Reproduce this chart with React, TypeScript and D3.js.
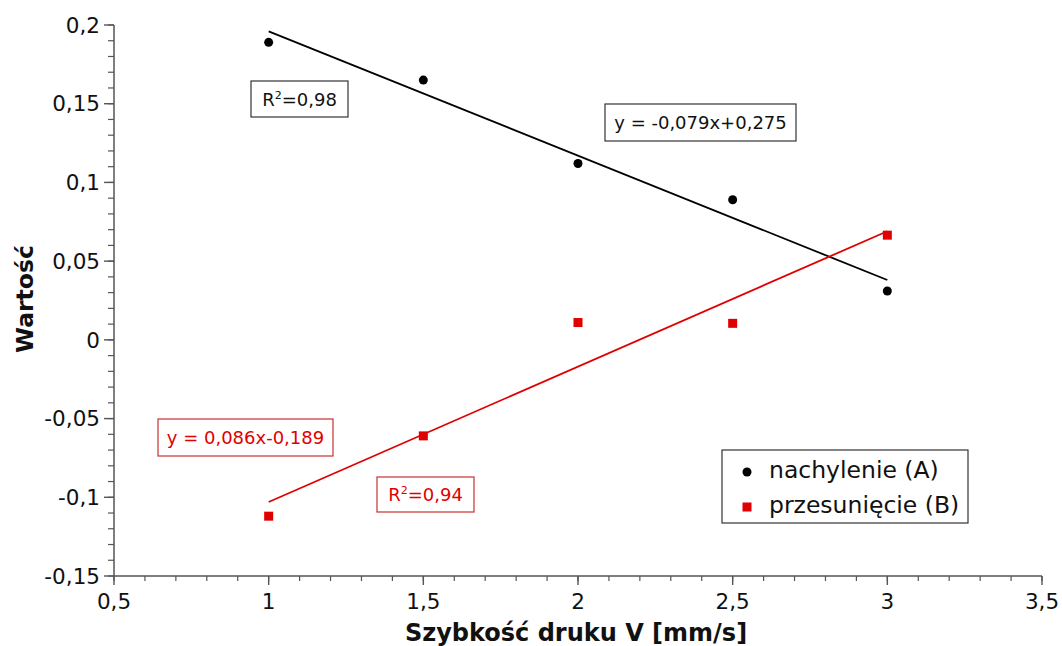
import React from "react";
import * as d3 from "d3";

// Print speed [mm/s]
const speeds = [1, 1.5, 2, 2.5, 3];
// Fitted slope (A) and offset (B) for each speed
const slopeA = [0.189, 0.165, 0.112, 0.089, 0.031];
const offsetB = [-0.112, -0.061, 0.011, 0.0105, 0.0665];

// Linear fits shown on the chart
const fitA = { a: -0.079, b: 0.275, eq: "y = -0,079x+0,275", r2: "0,98" };
const fitB = { a: 0.086, b: -0.189, eq: "y = 0,086x-0,189", r2: "0,94" };

const xMajor = [0.5, 1, 1.5, 2, 2.5, 3, 3.5];
const yMajor = [-0.15, -0.1, -0.05, 0, 0.05, 0.1, 0.15, 0.2];

const W = 1062;
const H = 646;
const FONT = "DejaVu Sans, Verdana, sans-serif";
const RED = "#e00000";
const AXIS = "#555";

const fmt = (v: number) => {
  const s = d3.format("~g")(Math.round(v * 1000) / 1000);
  return s.replace(".", ",").replace("−", "-");
};

export default function App() {
  const x = d3.scaleLinear().domain([0.5, 3.5]).range([114, 1042]);
  const y = d3.scaleLinear().domain([-0.15, 0.2]).range([576, 25]);

  const xMinor = d3.range(5, 36).map((v) => v / 10);
  const yMinor = d3.range(-15, 21).map((v) => v / 100);

  const fitLine = (f: { a: number; b: number }) =>
    d3.line<number>()
      .x((v) => x(v))
      .y((v) => y(f.a * v + f.b))([1, 3]) as string;

  return (
    <svg
      width={W}
      height={H}
      style={{ position: "absolute", left: 0, top: 0, background: "#fff" }}
      fontFamily={FONT}
    >
      {/* axes */}
      <line x1={x(0.5)} x2={x(0.5)} y1={y(0.2)} y2={y(-0.15)} stroke={AXIS} strokeWidth={1.5} />
      <line x1={x(0.5)} x2={x(3.5)} y1={y(-0.15)} y2={y(-0.15)} stroke={AXIS} strokeWidth={1.5} />

      {yMinor.map((v, i) => (
        <line key={"ym" + i} x1={x(0.5) - 6} x2={x(0.5)} y1={y(v)} y2={y(v)} stroke={AXIS} strokeWidth={1.2} />
      ))}
      {yMajor.map((v, i) => (
        <g key={"yM" + i}>
          <line x1={x(0.5) - 10} x2={x(0.5)} y1={y(v)} y2={y(v)} stroke={AXIS} strokeWidth={1.4} />
          <text x={x(0.5) - 14} y={y(v)} dy="0.36em" textAnchor="end" fontSize={21.5} fill="#111">
            {fmt(v)}
          </text>
        </g>
      ))}
      {xMinor.map((v, i) => (
        <line key={"xm" + i} x1={x(v)} x2={x(v)} y1={y(-0.15)} y2={y(-0.15) + 5} stroke={AXIS} strokeWidth={1.2} />
      ))}
      {xMajor.map((v, i) => (
        <g key={"xM" + i}>
          <line x1={x(v)} x2={x(v)} y1={y(-0.15)} y2={y(-0.15) + 9} stroke={AXIS} strokeWidth={1.4} />
          <text x={x(v)} y={y(-0.15) + 33} textAnchor="middle" fontSize={21.5} fill="#111">
            {fmt(v)}
          </text>
        </g>
      ))}

      {/* axis titles */}
      <text x={576} y={641} textAnchor="middle" fontSize={24} fontWeight="bold" fill="#111">
        Szybkość druku V [mm/s]
      </text>
      <text
        transform={`translate(33,${299}) rotate(-90)`}
        textAnchor="middle"
        fontSize={23.5}
        fontWeight="bold"
        fill="#111"
      >
        Wartość
      </text>

      {/* trend lines */}
      <path d={fitLine(fitA)} stroke="#000" strokeWidth={1.8} fill="none" />
      <path d={fitLine(fitB)} stroke={RED} strokeWidth={1.8} fill="none" />

      {/* data points */}
      {speeds.map((s, i) => (
        <circle key={"a" + i} cx={x(s)} cy={y(slopeA[i])} r={4.5} fill="#000" />
      ))}
      {speeds.map((s, i) => (
        <rect key={"b" + i} x={x(s) - 4.5} y={y(offsetB[i]) - 4.5} width={9} height={9} fill={RED} />
      ))}

      {/* fit annotations */}
      <g>
        <rect x={251} y={81} width={97} height={36} fill="#fff" stroke="#333" strokeWidth={1.2} />
        <text x={299.5} y={106} textAnchor="middle" fontSize={18} fill="#111">
          R<tspan dy={-7} fontSize={11}>2</tspan><tspan dy={7}>={fitA.r2}</tspan>
        </text>
        <rect x={605} y={104} width={191} height={37} fill="#fff" stroke="#333" strokeWidth={1.2} />
        <text x={700.5} y={129} textAnchor="middle" fontSize={18} fill="#111">
          {fitA.eq}
        </text>
      </g>
      <g>
        <rect x={158} y={419} width={175} height={37} fill="#fff" stroke="#c83030" strokeWidth={1.2} />
        <text x={245.5} y={444} textAnchor="middle" fontSize={18} fill={RED}>
          {fitB.eq}
        </text>
        <rect x={377} y={477} width={97} height={35} fill="#fff" stroke="#c83030" strokeWidth={1.2} />
        <text x={425.5} y={501} textAnchor="middle" fontSize={18} fill={RED}>
          R<tspan dy={-7} fontSize={11}>2</tspan><tspan dy={7}>={fitB.r2}</tspan>
        </text>
      </g>

      {/* legend */}
      <g>
        <rect x={722} y={450} width={246} height={73} fill="#fff" stroke="#333" strokeWidth={1.2} />
        <circle cx={747} cy={472} r={4.5} fill="#000" />
        <text x={769} y={478} fontSize={23.5} fill="#111">nachylenie (A)</text>
        <rect x={742.5} y={502.5} width={9} height={9} fill={RED} />
        <text x={769} y={513} fontSize={23.5} fill="#111">przesunięcie (B)</text>
      </g>
    </svg>
  );
}
